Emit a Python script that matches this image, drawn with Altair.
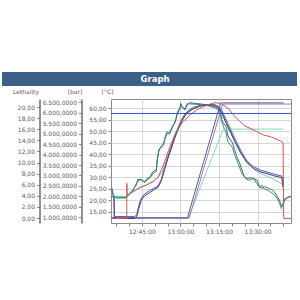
import altair as alt
import pandas as pd

DAY = "2024-01-01T"

# ---- series (time, °C) ----
limit_t = ["12:33:00", "13:43:00"]
limit_v = [57.8, 57.8]

red_t = ["12:33:00", "12:39:08", "12:39:08", "12:39:20", "12:41:29", "12:44:05", "12:46:42",
         "12:49:18", "12:51:16", "12:52:34", "12:53:52", "12:55:10", "12:56:29", "12:57:47",
         "12:59:05", "13:01:02", "13:03:39", "13:06:16", "13:08:52", "13:11:29", "13:13:26",
         "13:15:23", "13:17:21", "13:18:39", "13:19:58", "13:21:16", "13:23:13", "13:25:10",
         "13:27:08", "13:29:44", "13:32:21", "13:34:57", "13:37:34", "13:39:31", "13:39:55",
         "13:40:10", "13:43:00"]
red_v = [12.1, 12.1, 27.4, 21.9, 23.7, 25.6, 26.6, 28.1, 30.0, 33.2, 36.8, 41.1, 44.8, 48.4,
         51.3, 54.2, 57.1, 59.3, 60.7, 61.9, 62.5, 62.2, 61.0, 60.0, 58.1, 56.4, 54.2, 52.3,
         51.3, 49.9, 48.4, 47.7, 46.5, 45.5, 44.8, 12.1, 12.1]

prod_t = ["12:33:00", "12:34:10", "12:34:18", "12:42:08", "12:43:00", "12:43:50", "12:44:44",
          "12:46:03", "12:48:00", "12:49:57", "12:51:16", "12:52:34", "12:53:52", "12:55:10",
          "12:56:29", "12:57:47", "12:59:05", "13:00:23", "13:01:42", "13:03:00", "13:04:57",
          "13:07:34", "13:10:10", "13:12:47", "13:14:05", "13:15:07", "13:16:02", "13:17:21",
          "13:19:18", "13:21:16", "13:23:13", "13:25:49", "13:28:26", "13:31:02", "13:33:39",
          "13:36:16", "13:39:31", "13:39:47"]
purple_v = [21.6, 21.6, 12.9, 12.9, 13.6, 17.9, 20.8, 22.7, 24.2, 25.3, 26.2, 29.1, 34.3, 39.3,
            43.6, 48.0, 51.7, 54.9, 57.5, 59.0, 60.4, 61.3, 61.7, 61.7, 61.3, 60.4, 59.0, 55.6,
            50.9, 46.2, 41.9, 37.1, 34.6, 33.2, 32.3, 31.4, 30.5, 26.6]
navy_v = [21.6, 21.6, 12.1, 12.1, 12.9, 16.5, 20.1, 21.9, 23.3, 24.8, 25.6, 28.5, 33.4, 38.4,
          42.7, 47.1, 50.9, 54.2, 56.7, 58.4, 59.8, 61.0, 61.5, 61.5, 61.0, 59.8, 58.1, 54.6,
          50.0, 45.3, 41.0, 36.4, 33.9, 32.4, 31.6, 30.7, 29.8, 25.9]

mint_t = ["12:33:00", "12:38:52", "12:40:10", "12:42:47", "12:45:23", "12:48:00", "12:50:37",
          "12:52:34", "12:54:31", "12:56:29", "12:58:26", "13:00:23", "13:02:21", "13:04:57",
          "13:07:34", "13:10:10", "13:13:26", "13:15:23", "13:16:41", "13:18:39", "13:20:37",
          "13:22:34", "13:24:31", "13:26:29", "13:28:26", "13:31:02", "13:33:39", "13:36:16",
          "13:39:31"]
mint_v = [21.9, 21.6, 22.7, 24.5, 25.9, 27.4, 29.1, 31.7, 36.8, 42.6, 49.1, 54.2, 57.8, 60.0,
          61.0, 61.5, 61.6, 60.4, 58.1, 53.5, 48.4, 44.0, 39.7, 36.1, 33.5, 31.7, 30.5, 29.1,
          27.1]

noisy_t = ["12:33:00", "12:33:23", "12:33:55", "12:34:58", "12:38:52", "12:40:10", "12:41:29",
           "12:42:47", "12:43:26", "12:44:44", "12:46:03", "12:46:42", "12:48:00", "12:49:18",
           "12:50:37", "12:50:59", "12:51:38", "12:52:34", "12:53:26", "12:54:05", "12:54:52",
           "12:55:50", "12:56:44", "12:57:47", "12:58:26", "12:58:50", "12:59:44", "13:00:07",
           "13:00:46", "13:01:42", "13:02:36", "13:03:39", "13:05:36", "13:08:13", "13:10:50",
           "13:13:26", "13:14:44", "13:15:39", "13:16:10", "13:16:57", "13:17:44", "13:18:23",
           "13:19:18", "13:20:13", "13:20:59", "13:21:55", "13:22:57", "13:23:52", "13:24:47",
           "13:25:49", "13:27:08", "13:28:26", "13:29:44", "13:30:47", "13:31:42", "13:32:37",
           "13:33:39", "13:34:42", "13:35:37", "13:36:31", "13:37:34", "13:38:29", "13:39:16",
           "13:39:55", "13:40:34", "13:41:29", "13:43:00"]
green_v = [24.5, 25.2, 22.3, 21.3, 21.3, 23.0, 24.5, 26.6, 29.1, 28.8, 28.1, 29.1, 30.0, 32.4,
           33.2, 37.2, 42.2, 43.0, 44.0, 47.7, 49.8, 48.8, 52.0, 53.5, 56.4, 57.8, 59.6, 62.2,
           60.7, 59.3, 61.5, 62.5, 62.2, 61.9, 61.5, 60.7, 60.0, 57.8, 54.6, 53.2, 52.3, 48.4,
           46.5, 45.1, 42.2, 39.0, 36.4, 33.5, 30.3, 29.5, 29.8, 29.4, 28.8, 25.9, 25.2, 25.9,
           25.6, 25.0, 24.5, 23.7, 21.9, 20.1, 17.5, 17.9, 20.1, 21.3, 21.6]
teal_v = [23.8, 24.0, 21.9, 21.0, 21.0, 22.4, 24.0, 27.2, 28.3, 29.3, 27.6, 28.6, 29.5, 31.5,
          32.6, 38.0, 41.5, 43.8, 45.0, 46.8, 49.0, 49.8, 51.2, 54.0, 55.6, 58.4, 60.2, 61.0,
          60.4, 59.8, 62.0, 62.0, 61.8, 61.6, 61.1, 60.3, 59.3, 56.5, 53.8, 51.5, 49.5, 45.8,
          44.3, 43.0, 40.0, 37.5, 34.5, 31.6, 30.4, 29.0, 28.8, 29.6, 27.2, 25.6, 26.6, 24.9,
          24.6, 23.8, 23.1, 22.4, 20.8, 18.9, 16.4, 18.8, 20.6, 21.0, 21.8]

leth_purple_t = ["12:33:00", "13:02:44", "13:15:39", "13:40:10"]
leth_purple_v = [12.4, 12.4, 62.4, 62.4]
leth_navy_t = ["12:33:00", "13:03:23", "13:16:25", "13:43:00"]
leth_navy_v = [12.2, 12.2, 61.9, 61.9]
leth_mint_t = ["12:33:00", "13:03:00", "13:16:41", "13:40:10"]
leth_mint_v = [12.1, 12.1, 51.0, 51.0]

# axis tick values
c_ticks = [15, 20, 25, 30, 35, 40, 45, 50, 55, 60]
leth_ticks = [0, 2, 4, 6, 8, 10, 12, 14, 16, 18, 20]
bar_ticks = [1000, 1500, 2000, 2500, 3000, 3500, 4000, 4500, 5000, 5500, 6000, 6500]

series = [
    ("noisy_teal", noisy_t, teal_v, "#3f8f8c", 1.0),
    ("noisy_green", noisy_t, green_v, "#2e7a55", 1.0),
    ("mint", mint_t, mint_v, "#74d2ad", 1.2),
    ("leth_mint", leth_mint_t, leth_mint_v, "#7fdcb8", 1.3),
    ("leth_navy", leth_navy_t, leth_navy_v, "#8f86b0", 1.3),
    ("leth_purple", leth_purple_t, leth_purple_v, "#6a4f9c", 1.5),
    ("navy", prod_t, navy_v, "#2e3a8c", 1.4),
    ("purple", prod_t, purple_v, "#6b4fa0", 1.4),
    ("red", red_t, red_v, "#d2574e", 1.0),
    ("limit", limit_t, limit_v, "#3452c4", 1.3),
]

rows = []
for name, ts, vs, _, _ in series:
    for i, (t, v) in enumerate(zip(ts, vs)):
        rows.append({"series": name, "time": DAY + t, "value": v, "i": i})
df = pd.DataFrame(rows)

names = [s[0] for s in series]
colors = [s[3] for s in series]
widths = [s[4] for s in series]

FONT = "DejaVu Sans"
LBL = "#5a5a5a"

t0 = alt.DateTime(year=2024, month=1, date=1, hours=12, minutes=33)
t1 = alt.DateTime(year=2024, month=1, date=1, hours=13, minutes=43)
x_tick_vals = []
for h, m in [(12, 35), (12, 40), (12, 45), (12, 50), (12, 55), (13, 0), (13, 5), (13, 10),
             (13, 15), (13, 20), (13, 25), (13, 30), (13, 35), (13, 40)]:
    x_tick_vals.append(alt.DateTime(year=2024, month=1, date=1, hours=h, minutes=m))

xaxis = alt.Axis(
    values=x_tick_vals,
    labelExpr="minutes(datum.value) % 15 == 0 ? timeFormat(datum.value, '%H:%M:%S') : ''",
    title=None, domain=False, tickSize=3, tickColor="#888888",
    grid=True, gridColor="#d6d6d6",
    gridOpacity={"condition": {"test": "minutes(datum.value) % 15 == 0", "value": 1}, "value": 0},
    labelFontSize=6, labelColor=LBL, labelFont=FONT, labelPadding=2,
)


def side_axis(title, ticks, fmt_expr, offset, title_x, title_y, domain_line):
    return alt.Axis(
        orient="left", offset=offset, values=ticks, labelExpr=fmt_expr,
        title=title, titleAngle=0, titleAlign="center", titleBaseline="middle",
        titleX=title_x, titleY=title_y, titleFontSize=6, titleFontWeight="normal",
        titleColor=LBL, titleFont=FONT,
        grid=False, domain=domain_line, domainColor="#6e6e6e", domainWidth=1.5,
        tickSize=3, tickColor="#888888",
        labelFontSize=6, labelColor=LBL, labelFont=FONT, labelPadding=2,
    )


DEC2 = "replace(format(datum.value, '.2f'), '.', ',')"
DEC4 = "replace(replace(replace(format(datum.value, ',.4f'), ',', '#'), '.', ','), '#', '.')"

caxis = alt.Axis(
    orient="left", offset=0, values=c_ticks, labelExpr=DEC2,
    title="[°C]", titleAngle=0, titleAlign="center", titleBaseline="middle",
    titleX=-4, titleY=-8, titleFontSize=6, titleFontWeight="normal", titleColor=LBL,
    titleFont=FONT,
    domain=False, tickSize=3, tickColor="#888888",
    grid=True, gridColor="#d6d6d6",
    labelFontSize=6, labelColor=LBL, labelFont=FONT, labelPadding=2,
)

lines = alt.Chart(df).mark_line(clip=True).encode(
    x=alt.X("time:T", scale=alt.Scale(domain=[t0, t1], nice=False), axis=xaxis),
    y=alt.Y("value:Q", scale=alt.Scale(domain=[10.1, 64.1], nice=False, zero=False), axis=caxis),
    color=alt.Color("series:N", scale=alt.Scale(domain=names, range=colors), legend=None),
    strokeWidth=alt.StrokeWidth("series:N", scale=alt.Scale(domain=names, range=widths), legend=None),
    order=alt.Order("i:Q"),
    detail="series:N",
)

leth_axis = alt.Chart(pd.DataFrame({"v": leth_ticks})).mark_point(opacity=0, color=LBL).encode(
    y=alt.Y("v:Q", scale=alt.Scale(domain=[-0.9, 21.45], nice=False, zero=False),
            axis=side_axis("Lethality", leth_ticks, DEC2, 71.5, -14, -8, True))
)

bar_axis = alt.Chart(pd.DataFrame({"v": bar_ticks})).mark_point(opacity=0, color=LBL).encode(
    y=alt.Y("v:Q", scale=alt.Scale(domain=[738, 6643], nice=False, zero=False),
            axis=side_axis("[bar]", bar_ticks, DEC4, 29.5, -7, -8, True))
)

header_df = pd.DataFrame({"label": ["Graph"]})
header_band = alt.Chart(header_df).mark_rect(color="#3c5f87").encode(
    x=alt.value(-109), x2=alt.value(186), y=alt.value(-27), y2=alt.value(-13)
)
header_text = alt.Chart(header_df).mark_text(
    color="white", font=FONT, fontWeight="bold", fontSize=8.5, align="center", baseline="middle"
).encode(x=alt.value(44), y=alt.value(-20), text="label:N")

chart = alt.layer(header_band, header_text, lines, leth_axis, bar_axis).resolve_scale(
    y="independent"
).properties(
    width=180, height=124,
    padding={"left": 2, "top": 72, "right": 3, "bottom": 5},
    background="white",
).configure_view(stroke="#8a8a8a", strokeWidth=1)

chart.save("out.html", embed_options={"renderer": "svg", "actions": False})
